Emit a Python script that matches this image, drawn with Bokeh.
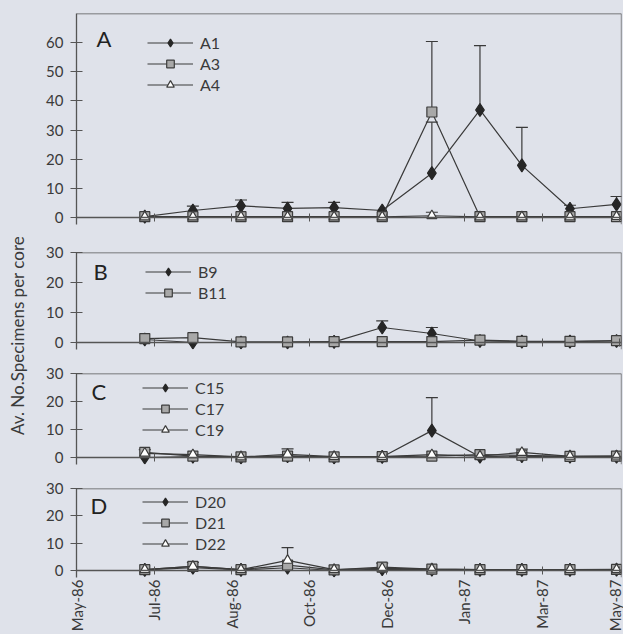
import pandas as pd
from math import pi
from bokeh.plotting import figure
from bokeh.layouts import row, column
from bokeh.models import (Range1d, FixedTicker, DatetimeTickFormatter, ColumnDataSource,
                          Whisker, TeeHead, Legend, LegendItem, Label, Span, DatetimeAxis,
                          CustomLabelingPolicy)
from bokeh.embed import file_html
from bokeh.resources import INLINE

# ---------------- data ----------------
dates = ["1986-07-03", "1986-08-03", "1986-09-03", "1986-10-03", "1986-11-02", "1986-12-03",
         "1987-01-04", "1987-02-04", "1987-03-03", "1987-04-03", "1987-05-03"]
tick_dates = ["1986-05-20", "1986-07-09", "1986-08-28", "1986-10-17", "1986-12-06",
              "1987-01-25", "1987-03-16", "1987-05-05"]

A1 = [0.3, 2.4, 4.0, 3.1, 3.4, 2.4, 15.2, 36.9, 17.9, 3.0, 4.5]
A1_err = [0, 1.5, 2.0, 2.1, 1.8, 0, 17.5, 22.1, 13.0, 1.2, 2.7]
A3 = [0.3, 0.3, 0.3, 0.3, 0.3, 0.3, 36.2, 0.3, 0.3, 0.3, 0.3]
A3_err = [0, 0, 0, 0, 0, 0, 24.2, 0, 0, 0, 0]
A4 = [0.2, 0.2, 0.2, 0.2, 0.2, 0.2, 0.6, 0.2, 0.2, 0.2, 0.3]
A4_err = [0, 0, 0, 0, 0, 0, 1.2, 0, 0, 0, 0]

B9 = [1.0, 0.0, 0.0, 0.0, 0.2, 5.0, 3.0, 0.5, 0.3, 0.3, 0.5]
B9_err = [0, 0, 0, 0, 0, 2.2, 2.0, 0, 0, 0, 0]
B11 = [1.3, 1.6, 0.2, 0.2, 0.3, 0.3, 0.3, 0.8, 0.4, 0.4, 0.6]
B11_err = [0, 0, 0, 0, 0, 0, 0, 0, 0, 0, 0]

C15 = [0.0, 0.3, 0.0, 0.5, 0.0, 0.2, 9.6, 0.3, 0.5, 0.3, 0.3]
C15_err = [0, 0, 0, 0, 0, 0, 11.8, 0, 0, 0, 0]
C17 = [1.8, 0.5, 0.2, 0.5, 0.2, 0.3, 0.5, 1.0, 0.8, 0.4, 0.5]
C17_err = [1.0, 0, 0, 0, 0, 0, 0, 0, 0, 0, 0]
C19 = [1.5, 1.0, 0.2, 1.1, 0.3, 0.3, 1.0, 0.5, 1.8, 0.4, 0.5]
C19_err = [0, 0, 0, 2.0, 0, 0, 0, 0, 1.2, 0, 0]

D20 = [0.2, 1.0, 0.2, 1.0, 0.0, 0.5, 0.3, 0.2, 0.2, 0.2, 0.3]
D20_err = [0, 0, 0, 0, 0, 0, 0, 0, 0, 0, 0]
D21 = [0.3, 1.5, 0.3, 2.0, 0.2, 1.2, 0.5, 0.3, 0.3, 0.3, 0.4]
D21_err = [0, 0, 0, 0, 0, 1.5, 0, 0, 0, 0, 0]
D22 = [0.3, 1.5, 0.3, 3.7, 0.3, 0.8, 0.5, 0.3, 0.3, 0.3, 0.3]
D22_err = [0, 1.5, 0, 4.7, 0, 0, 0, 0, 0, 0, 0]

# ---------------- styling ----------------
BG = "#dfe2ea"
INK = "#3a3a3a"
AX = "#555555"
FONT = "Lato"
STYLE = {
    "diamond": dict(marker="diamond", size=13, fill_color="#262626", line_color="#262626"),
    "square": dict(marker="square", size=10, fill_color="#a8a8a8", line_color="#3c3c3c"),
    "triangle": dict(marker="triangle", size=10, fill_color="#ffffff", line_color="#3c3c3c"),
}

x = pd.to_datetime(dates)
t0 = pd.Timestamp(tick_dates[0])
x_range = Range1d(start=t0, end=t0 + pd.Timedelta(days=351.2))
ticks_ms = [int(pd.Timestamp(t).value // 10**6) for t in tick_dates]
tick_labels = {ms: pd.Timestamp(t).strftime("%b-%y") for ms, t in zip(ticks_ms, tick_dates)}
fmt = DatetimeTickFormatter(days="%b-%y", months="%b-%y", years="%b-%y",
                            hours="%b-%y", minutes="%b-%y", seconds="%b-%y",
                            milliseconds="%b-%y", microseconds="%b-%y")
no_labels = CustomLabelingPolicy(code="""
    for (const i of Array.from(indices)) { indices.unset(i) }
    return indices
""")

EXT = 7  # px of frame below zero

panels = [
    ("A", [("A1", A1, A1_err, "diamond"), ("A3", A3, A3_err, "square"), ("A4", A4, A4_err, "triangle")],
     13, 217, 70, [0, 10, 20, 30, 40, 50, 60], 13, 14, (71, 20), (12.9, 38)),
    ("B", [("B9", B9, B9_err, "diamond"), ("B11", B11, B11_err, "square")],
     252, 342, 30, [0, 10, 20, 30], 14, 12, (69, 9.5), (11, 271)),
    ("C", [("C15", C15, C15_err, "diamond"), ("C17", C17, C17_err, "square"), ("C19", C19, C19_err, "triangle")],
     373, 457, 30, [0, 10, 20, 30], 12, 12, (66, 4.5), (9.7, 391)),
    ("D", [("D20", D20, D20_err, "diamond"), ("D21", D21, D21_err, "square"), ("D22", D22, D22_err, "triangle")],
     488, 570, 30, [0, 10, 20, 30], 12, 57, (66, 3.5), (9, 505)),
]

figs = []
for i, (letter, series, top_px, zero_px, y_top, yticks, btop, bbot, lpos, lettpos) in enumerate(panels):
    ppu = (zero_px - top_px) / y_top
    frame_h = (zero_px - top_px) + EXT
    y_start = -EXT / ppu
    last = (i == len(panels) - 1)
    p = figure(x_axis_type="datetime", x_range=x_range, y_range=Range1d(y_start, y_top),
               frame_width=545, frame_height=frame_h, min_border_left=46, min_border_right=2,
               min_border_top=btop, min_border_bottom=bbot,
               output_backend="svg", toolbar_location=None,
               background_fill_color=BG, border_fill_color=BG, outline_line_color=None)
    p.grid.visible = False

    # zero-line x axis (ticks crossing, no labels)
    xa = p.xaxis[0]
    xa.ticker = FixedTicker(ticks=ticks_ms)
    xa.formatter = fmt
    xa.fixed_location = 0
    xa.major_tick_in = 4
    xa.major_tick_out = 4
    xa.minor_tick_line_color = None
    xa.axis_line_color = AX
    xa.axis_line_width = 1.3
    xa.major_tick_line_color = AX
    xa.major_label_policy = no_labels
    xa.major_label_standoff = 0

    if last:
        la = DatetimeAxis(ticker=FixedTicker(ticks=ticks_ms), formatter=fmt,
                          major_label_overrides=tick_labels,
                          axis_line_color=None, major_tick_line_color=None,
                          minor_tick_line_color=None, major_tick_in=0, major_tick_out=0,
                          major_label_orientation=pi / 2, major_label_standoff=2,
                          major_label_text_font=FONT, major_label_text_font_size="15px",
                          major_label_text_color=INK)
        p.add_layout(la, "below")

    ya = p.yaxis[0]
    ya.ticker = FixedTicker(ticks=yticks)
    ya.major_tick_in = 6
    ya.major_tick_out = 6
    ya.minor_tick_line_color = None
    ya.axis_line_color = AX
    ya.axis_line_width = 1.3
    ya.major_tick_line_color = AX
    ya.major_label_text_font = FONT
    ya.major_label_text_font_size = "15px"
    ya.major_label_text_color = INK
    ya.major_label_standoff = 7

    # top & right borders
    p.add_layout(Span(location=y_top, dimension="width", line_color=AX, line_width=1.3))
    p.add_layout(Span(location=x_range.end, dimension="height", line_color=AX, line_width=1.3))

    items = []
    for name, vals, errs, kind in series:
        src = ColumnDataSource(dict(x=x, y=vals))
        lr = p.line("x", "y", source=src, line_color=INK, line_width=1.2)
        sr = p.scatter("x", "y", source=src, line_width=1.2, **STYLE[kind])
        ex = [xi for xi, e in zip(x, errs) if e > 0]
        ey = [v for v, e in zip(vals, errs) if e > 0]
        eu = [v + e for v, e in zip(vals, errs) if e > 0]
        if ex:
            wsrc = ColumnDataSource(dict(base=ex, lower=ey, upper=eu))
            p.add_layout(Whisker(source=wsrc, base="base", lower="lower", upper="upper",
                                 dimension="height", line_color=INK, line_width=1.2,
                                 upper_head=TeeHead(size=12, line_color=INK, line_width=1.2),
                                 lower_head=None))
        items.append(LegendItem(label=name, renderers=[lr, sr]))

    n = len(items)
    H = n * 19 + (n - 1) * 2
    lx, ltop = lpos
    legend = Legend(items=items, location=(lx, frame_h - ltop - H),
                    glyph_width=46, glyph_height=19, label_height=19, spacing=2,
                    padding=0, margin=0, label_standoff=7,
                    background_fill_alpha=0, border_line_color=None,
                    label_text_font=FONT, label_text_font_size="16px", label_text_color=INK)
    p.add_layout(legend)

    lday, lcy = lettpos
    p.add_layout(Label(x=t0 + pd.Timedelta(days=lday), y=(zero_px - lcy) / ppu, text=letter,
                       text_font=FONT, text_font_size="22px", text_color="#222222",
                       text_baseline="middle", text_align="left"))
    figs.append(p)

# y-axis title column
lab = figure(width=30, height=634, x_range=Range1d(0, 30), y_range=Range1d(0, 634),
             min_border=0, output_backend="svg", toolbar_location=None,
             background_fill_color=BG, border_fill_color=BG, outline_line_color=None)
lab.axis.visible = False
lab.grid.visible = False
lab.add_layout(Label(x=17, y=634 - 335, text="Av. No.Specimens per core", angle=pi / 2,
                     text_font=FONT, text_font_size="17px", text_color=INK,
                     text_align="center", text_baseline="middle"))

layout = row(lab, column(*figs, spacing=0), spacing=0)
layout.styles = {"background-color": BG}

open("out.html", "w").write(file_html(layout, INLINE))
